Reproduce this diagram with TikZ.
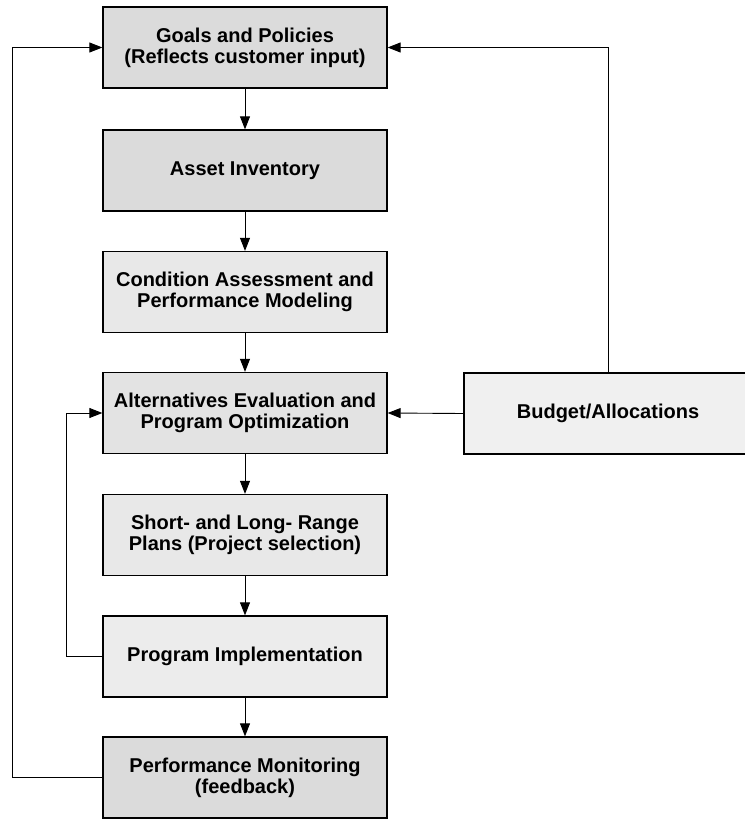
\documentclass[tikz,border=0pt]{standalone}
\usepackage{fontspec}
\setmainfont{Liberation Sans}
\usetikzlibrary{arrows.meta}
\begin{document}
\begin{tikzpicture}[x=1pt,y=-1pt,
  stage/.style={draw=black, line width=1.3pt, minimum width=284pt, minimum height=81pt,
    align=center, inner sep=0pt, font=\bfseries\fontsize{20}{21}\selectfont},
  flow/.style={line width=0.9pt, -{Triangle[length=13pt,width=10pt]}}]
\useasboundingbox (0,0) rectangle (744,821);

% main column of stages
\node[stage, fill=gray!28] (goals) at (245,47.5) {Goals and Policies\\(Reflects customer input)};
\node[stage, fill=gray!28] (asset) at (245,170.5) {Asset Inventory};
\node[stage, fill=gray!18] (cond)  at (245,292) {Condition Assessment and\\Performance Modeling};
\node[stage, fill=gray!22] (alt)   at (245,413) {Alternatives Evaluation and\\Program Optimization};
\node[stage, fill=gray!18] (plans) at (245,535) {Short- and Long- Range\\Plans (Project selection)};
\node[stage, fill=gray!15] (impl)  at (245,656.5) {Program Implementation};
\node[stage, fill=gray!28] (perf)  at (245,777.5) {Performance Monitoring\\(feedback)};

% budget box on the right
\node[stage, fill=gray!12, minimum width=288pt] (budget) at (608,413.5) {Budget/Allocations};

% guide coordinates for the loops
\coordinate (outer) at (12,0);
\coordinate (inner) at (66,0);
\coordinate (bup)   at (608,0);

% downward flow
\draw[flow] (goals) -- (asset);
\draw[flow] (asset) -- (cond);
\draw[flow] (cond)  -- (alt);
\draw[flow] (alt)   -- (plans);
\draw[flow] (plans) -- (impl);
\draw[flow] (impl)  -- (perf);

% feedback loops
\draw[flow] (perf.west) -- (perf.west -| outer) |- (goals.west);
\draw[flow] (impl.west) -- (impl.west -| inner) |- (alt.west);

% budget links
\draw[flow] (budget.west) -- (alt.east);
\draw[flow] (budget.north -| bup) |- (goals.east);
\end{tikzpicture}
\end{document}
